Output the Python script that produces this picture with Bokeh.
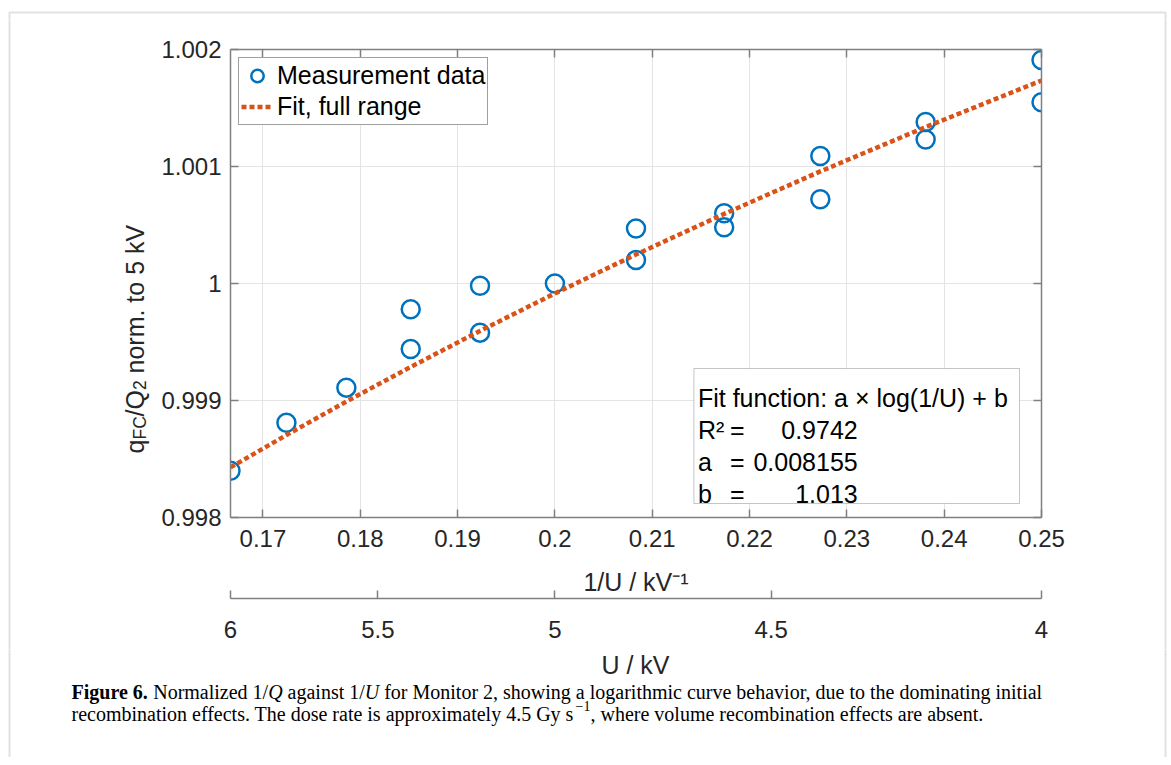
from bokeh.plotting import figure
from bokeh.layouts import column, row
from bokeh.models import (Range1d, LinearAxis, FixedTicker, CustomJSTickFormatter,
                          Label, BoxAnnotation, Legend, LegendItem, ColumnDataSource)
from bokeh.embed import file_html
from bokeh.resources import INLINE
import math

# ---------------- data ----------------
voltage_kV = [6.0, 5.8, 5.6, 5.4, 5.4, 5.2, 5.2, 5.0, 4.8, 4.8,
              4.6, 4.6, 4.4, 4.4, 4.2, 4.2, 4.0, 4.0]
q_norm = [0.99840, 0.99881, 0.99911, 0.99978, 0.99944, 0.99998, 0.99958, 1.00000,
          1.00047, 1.00020, 1.00060, 1.00048, 1.00109, 1.00072, 1.00138, 1.00123,
          1.00191, 1.00155]
fit_voltage_kV = [6.0, 5.8, 5.6, 5.4, 5.2, 5.0, 4.8, 4.6, 4.4, 4.2, 4.0]
fit_q_norm = [0.998428, 0.998705, 0.998991, 0.999287, 0.999595, 0.999915,
              1.000248, 1.000595, 1.000958, 1.001337, 1.001735]
x_ticks = [0.17, 0.18, 0.19, 0.20, 0.21, 0.22, 0.23, 0.24, 0.25]
y_ticks = [0.998, 0.999, 1.000, 1.001, 1.002]
u_ticks = [6, 5.5, 5, 4.5, 4]
legend_labels = ["Measurement data", "Fit, full range"]
fit_function = "Fit function: a \u00d7 log(1/U) + b"
fit_param_names = ["R\u00b2", "a", "b"]
fit_param_values = ["0.9742", "0.008155", "1.013"]

# ---------------- styles / layout (page px) ----------------
SANS = "Liberation Sans"
SERIF = "Liberation Serif"
TXT = "#262626"
AX = "#7f7f7f"
BLUE = "#0072BD"
ORANGE = "#D95319"
BORDER = "#9a9a9a"

W, H = 1167, 757
TOP_H = 20          # top strip   y 0..20
LEFT_W = 158        # left strip  x 0..158
RIGHT_W = 10        # right strip x 1157..1167
MID_B = 649         # main figure spans y 20..649
FL, FT, FW, FH = 229, 49, 812, 468      # frame position in page px
FB = FT + FH
FR = FL + FW

inv_u = [1.0 / u for u in voltage_kV]
fit_inv_u = [1.0 / u for u in fit_voltage_kV]

main_w = W - LEFT_W - RIGHT_W
main_h = MID_B - TOP_H
p = figure(width=main_w, height=main_h, output_backend="svg", toolbar_location=None,
           x_range=Range1d(1.0 / 6.0, 0.25), y_range=Range1d(0.998, 1.002),
           min_border_left=FL - LEFT_W, min_border_right=(W - RIGHT_W) - FR,
           min_border_top=FT - TOP_H, min_border_bottom=MID_B - FB,
           outline_line_color=None, frame_align=False,
           background_fill_color="white", border_fill_color="white")
p.extra_x_ranges = {"px": Range1d(FL, FR)}
p.extra_y_ranges = {"py": Range1d(FB, FT)}


def style_axis(ax, ticks, fmt_code, show_labels=True):
    ax.ticker = FixedTicker(ticks=ticks)
    ax.formatter = CustomJSTickFormatter(code=fmt_code if show_labels else "return ''")
    ax.major_tick_in = 8
    ax.major_tick_out = 0
    ax.minor_tick_line_color = None
    ax.axis_line_color = AX
    ax.axis_line_width = 1.5
    ax.major_tick_line_color = AX
    ax.major_tick_line_width = 1.5
    ax.major_label_text_font = SANS
    ax.major_label_text_font_size = "24px"
    ax.major_label_text_color = TXT


xfmt = "return Number(tick.toFixed(2)).toString();"
yfmt = "return Number(tick.toFixed(3)).toString();"

xa = p.xaxis[0]
style_axis(xa, x_ticks, xfmt)
xa.major_label_standoff = 12
xa.axis_label = "1/U / kV\u207b\u00b9"
xa.axis_label_text_font = SANS
xa.axis_label_text_font_size = "25px"
xa.axis_label_text_font_style = "normal"
xa.axis_label_text_color = TXT
xa.axis_label_standoff = 18

ya = p.yaxis[0]
style_axis(ya, y_ticks, yfmt)
ya.major_label_standoff = 9

top = LinearAxis()
style_axis(top, x_ticks, xfmt, show_labels=False)
p.add_layout(top, "above")
right = LinearAxis()
style_axis(right, y_ticks, yfmt, show_labels=False)
p.add_layout(right, "right")

# secondary axis: U / kV
sec = LinearAxis()
style_axis(sec, [1.0 / u for u in u_ticks], "return Number((1/tick).toFixed(2)).toString();")
sec.major_label_standoff = 22
p.add_layout(sec, "below")

p.xgrid.ticker = FixedTicker(ticks=x_ticks)
p.ygrid.ticker = FixedTicker(ticks=y_ticks)
for g in (p.xgrid, p.ygrid):
    g.grid_line_color = "#e4e4e4"
    g.grid_line_width = 1

src = ColumnDataSource(dict(x=inv_u, y=q_norm))
r_sc = p.scatter("x", "y", source=src, marker="circle", size=18, fill_color=None,
                 line_color=BLUE, line_width=2.5)
fit_src = ColumnDataSource(dict(x=fit_inv_u, y=fit_q_norm))
r_fit = p.line("x", "y", source=fit_src, line_color=ORANGE, line_width=4.5, line_dash="5 3")

legend = Legend(items=[LegendItem(label=legend_labels[0], renderers=[r_sc]),
                       LegendItem(label=legend_labels[1], renderers=[r_fit])],
                location="top_left", margin=8, padding=2, spacing=0,
                glyph_width=32, glyph_height=31, label_height=31, label_standoff=4,
                label_text_font=SANS, label_text_font_size="25px", label_text_color="#000000",
                border_line_color="#404040", border_line_width=1,
                background_fill_color="white", background_fill_alpha=1.0)
p.add_layout(legend)


def blank(x0, x1, y0, y1):
    f = figure(width=x1 - x0, height=y1 - y0, x_range=Range1d(x0, x1),
               y_range=Range1d(y1, y0), x_axis_type=None, y_axis_type=None,
               min_border=0, outline_line_color=None, toolbar_location=None,
               output_backend="svg", background_fill_color="white",
               border_fill_color="white", frame_align=False)
    f.extra_x_ranges = {"px": Range1d(x0, x1)}
    f.extra_y_ranges = {"py": Range1d(y1, y0)}
    return f


f_top = blank(0, W, 0, TOP_H)
f_left = blank(0, LEFT_W, TOP_H, MID_B)
f_right = blank(W - RIGHT_W, W, TOP_H, MID_B)
f_cap = blank(0, W, MID_B, H)

R = dict(x_range_name="px", y_range_name="py")


def box(fig, l, r, t, b, **kw):
    fig.add_layout(BoxAnnotation(left=l, right=r, top=t, bottom=b, **R, **kw))


def lab(fig, X, Y, text, size, font=SANS, style="normal", align="left", angle=0.0,
        color="#000000"):
    fig.add_layout(Label(x=X, y=Y, text=text, text_font=font, text_font_size=f"{size}px",
                         text_font_style=style, text_align=align,
                         text_baseline="alphabetic", angle=angle, text_color=color, **R))


# outer frame (clipped per strip)
for fig in (f_top, f_left, f_right, f_cap):
    box(fig, 9, 1165, 12, 2000, fill_color=None, line_color=BORDER, line_width=2)

# fit text box inside the axes
box(p, 693, 1019, 368, 503, fill_color="white", fill_alpha=1.0,
    line_color="#404040", line_width=1)
lab(p, 697, 397, fit_function, 25)
for i, (nm, val) in enumerate(zip(fit_param_names, fit_param_values)):
    yb = 429 + i * 32
    lab(p, 697, yb, nm, 25)
    lab(p, 729, yb, "=", 25)
    lab(p, 857, yb, val, 25, align="right")

# y-axis label with subscripts (rotated, reads bottom to top)
A = math.pi / 2
bx = 134
sub = bx + 5
lab(f_left, bx, 453, "q", 25, angle=A, color=TXT)
lab(f_left, sub, 439, "FC", 17.5, angle=A, color=TXT)
lab(f_left, bx, 416, "/Q", 25, angle=A, color=TXT)
lab(f_left, sub, 389.5, "2", 17.5, angle=A, color=TXT)
lab(f_left, bx, 373, "norm. to 5 kV", 25, angle=A, color=TXT)

# secondary x-axis title
lab(f_cap, (FL + FR) / 2, 664, "U / kV", 25, align="center", color=TXT)

# caption
F = 20
Y1, Y2 = 691, 713
lab(f_cap, 71, Y1, "Figure 6.", F, font=SERIF, style="bold")
lab(f_cap, 152.7, Y1, "Normalized 1/", F, font=SERIF)
lab(f_cap, 267.7, Y1, "Q", F, font=SERIF, style="italic")
lab(f_cap, 287.1, Y1, "against 1/", F, font=SERIF)
lab(f_cap, 364.3, Y1, "U", F, font=SERIF, style="italic")
lab(f_cap, 383.7, Y1,
    "for Monitor 2, showing a logarithmic curve behavior, due to the dominating initial",
    F, font=SERIF)
lab(f_cap, 71, Y2, "recombination effects. The dose rate is approximately 4.5 Gy s", F, font=SERIF)
lab(f_cap, 575, Y2 - 8, "\u22121", 14, font=SERIF)
lab(f_cap, 590, Y2, ", where volume recombination effects are absent.", F, font=SERIF)

layout = column(f_top, row(f_left, p, f_right), f_cap)
open("out.html", "w").write(file_html(layout, INLINE))
